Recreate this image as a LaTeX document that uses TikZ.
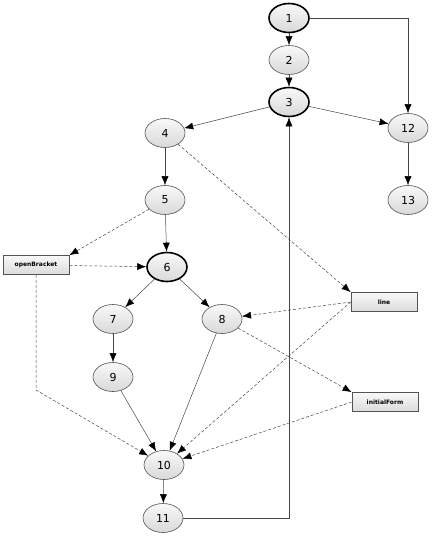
\documentclass[tikz,border=0pt]{standalone}
\usepackage{fontspec}
\setmainfont{DejaVu Sans}
\usetikzlibrary{shapes.geometric,arrows.meta,positioning}

\tikzset{
	stmt/.style={ellipse, draw=gray!65!black, line width=0.6pt, top color=gray!5, bottom color=gray!30, minimum width=40pt, minimum height=29pt, inner sep=0pt, font=\fontsize{11}{13}\selectfont},
	cutnode/.style={stmt, draw=black, line width=1.6pt},
	varbox/.style={rectangle, draw=gray!65!black, top color=gray!5, bottom color=gray!28, line width=0.7pt, minimum width=66pt, minimum height=19pt, inner sep=1pt, font=\bfseries\fontsize{6}{7}\selectfont},
	flow/.style={-{Latex[length=9pt,width=7pt,color=black]}, draw=gray!55!black, line width=0.5pt},
	dep/.style={flow, dash pattern=on 3pt off 2pt}
}

\begin{document}
\begin{tikzpicture}[x=1pt, y=-1pt]
				\useasboundingbox (0,0) rectangle (447,546);

					\node[cutnode] (n1) at (289,18) {1};
					\node[stmt] (n2) at (289,60) {2};
					\node[cutnode] (n3) at (289,102) {3};
					\node[stmt] (n4) at (165,133) {4};
					\node[stmt] (n5) at (165,200) {5};
					\node[cutnode] (n6) at (167,267) {6};
					\node[stmt] (n7) at (113,319) {7};
					\node[stmt] (n8) at (222,319) {8};
					\node[stmt] (n9) at (113,377) {9};
					\node[stmt] (n10) at (164,465) {10};
					\node[stmt] (n11) at (163,518) {11};
					\node[stmt] (n12) at (408,128) {12};
					\node[stmt] (n13) at (408,200) {13};

					\node[varbox] (openBracket) at (36,265) {openBracket};
					\node[varbox] (line) at (384,302) {line};
					\node[varbox] (initialForm) at (385,402) {initialForm};
					\coordinate (bend) at (36,390);

					% control flow
					\draw[flow] (n1) -- (n2);
					\draw[flow] (n2) -- (n3);
					\draw[flow] (n1.east) -| (n12.north);
					\draw[flow] (n3) -- (n12);
					\draw[flow] (n3) -- (n4);
					\draw[flow] (n12) -- (n13);
					\draw[flow] (n4) -- (n5);
					\draw[flow] (n5) -- (n6);
					\draw[flow] (n6) -- (n7);
					\draw[flow] (n6) -- (n8);
					\draw[flow] (n7) -- (n9);
					\draw[flow] (n9) -- (n10);
					\draw[flow] (n8) -- (n10);
					\draw[flow] (n10) -- (n11);
					\draw[flow] (n11.east) -| (n3.south);

					% data dependences
					\draw[dep] (n4) -- (line.north west);
					\draw[dep] (n5) -- (openBracket.north east);
					\draw[dep] (openBracket) -- (n6);
					\draw[dep] (openBracket.south) -- (bend) -- (n10);
					\draw[dep] (line.west) -- (n8);
					\draw[dep] (line.west) -- (n10);
					\draw[dep] (n8) -- (initialForm.north west);
					\draw[dep] (initialForm.west) -- (n10);

				\end{tikzpicture}
\end{document}
